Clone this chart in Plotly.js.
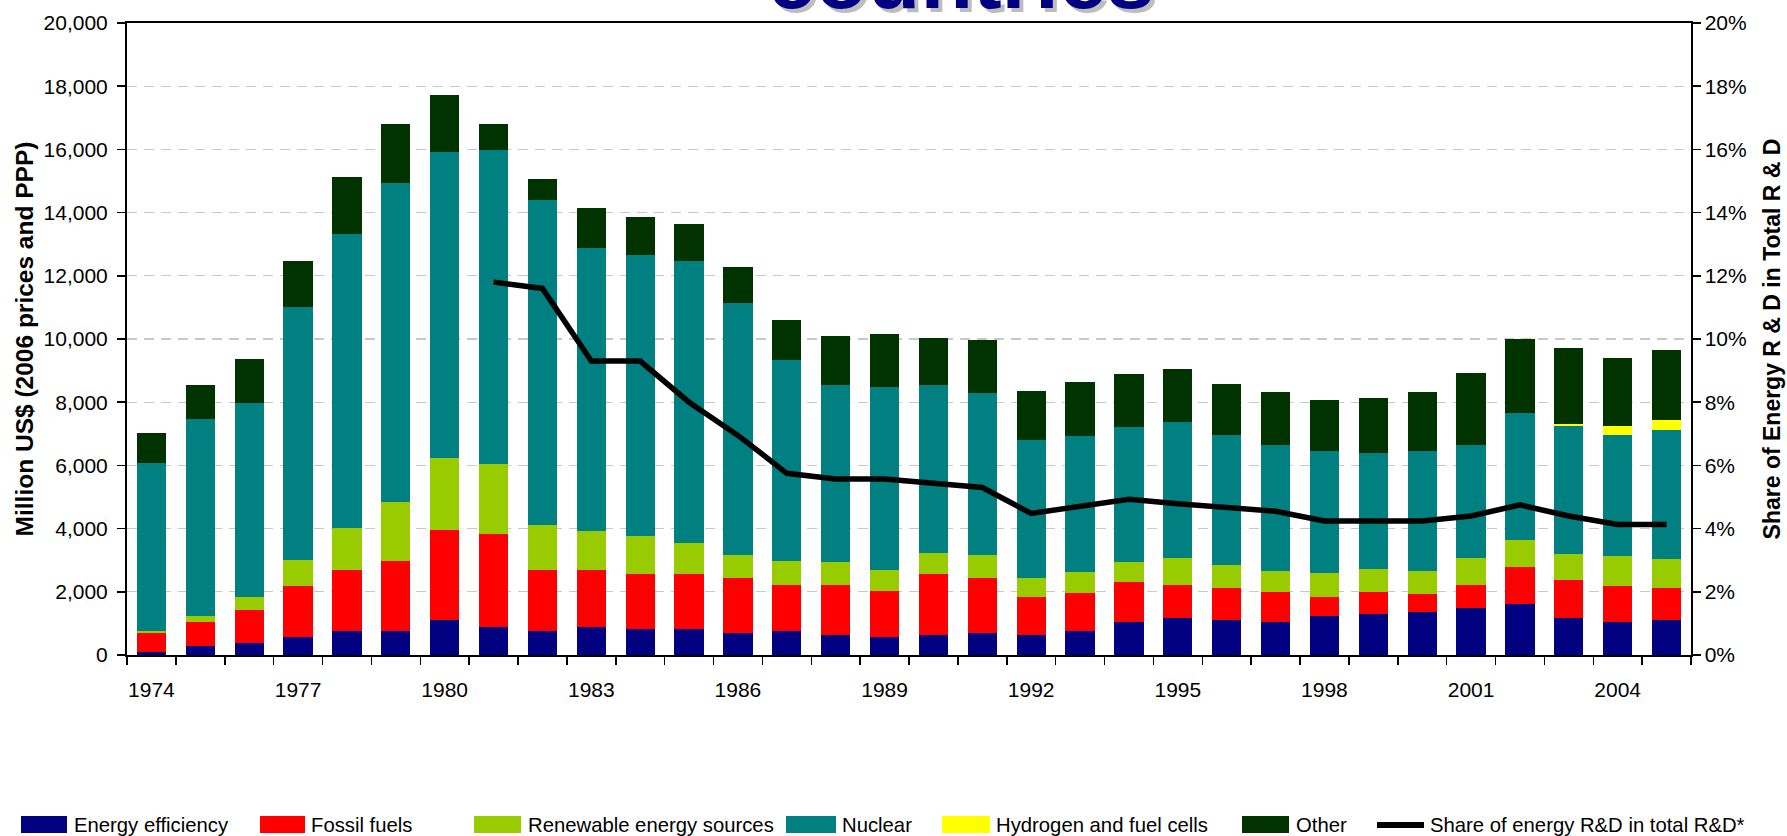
<!DOCTYPE html>
<html>
<head>
<meta charset="utf-8">
<script src="https://cdn.plot.ly/plotly-3.0.1.min.js"></script>
<style>
html,body{margin:0;padding:0;background:#fff;}
#chart{width:1787px;height:836px;}
</style>
</head>
<body>
<div id="chart"></div>
<script>
// ---------------- DATA ----------------
const years = ['1974','1975','1976','1977','1978','1979','1980','1981','1982','1983','1984','1985','1986','1987','1988','1989',
               '1990','1991','1992','1993','1994','1995','1996','1997','1998','1999','2000','2001','2002','2003','2004','2005'];
const tickLabels = ['1974','1977','1980','1983','1986','1989','1992','1995','1998','2001','2004'];

// Million US$ (2006 prices and PPP)
const energyEfficiency = [110,300,395,585,775,775,1120,900,775,880,820,820,690,750,630,560,
                          630,690,630,750,1050,1185,1120,1060,1250,1310,1375,1500,1600,1185,1060,1120];
const fossilFuels      = [600,760,1045,1585,1925,2215,2850,2940,1925,1820,1740,1740,1745,1460,1580,1465,
                          1930,1745,1195,1205,1270,1045,985,920,600,670,540,730,1170,1175,1110,985];
const renewables       = [65,190,410,850,1330,1840,2250,2190,1400,1210,1195,985,725,760,725,655,
                          655,725,610,665,630,825,730,665,730,730,730,825,855,825,950,920];
const nuclear          = [5315,6230,6110,7980,9300,10120,9710,9960,10300,8970,8890,8915,7970,6355,5605,5790,
                          5325,5125,4365,4305,4280,4315,4125,4000,3870,3680,3810,3585,4030,4060,3840,4095];
const hydrogen         = [0,0,0,0,0,0,0,0,0,0,0,0,0,0,0,0,
                          0,0,0,0,0,0,0,0,0,0,0,0,0,65,285,315];
const other            = [950,1080,1420,1480,1810,1860,1800,820,660,1260,1205,1195,1145,1265,1545,1675,
                          1485,1675,1545,1730,1675,1680,1620,1685,1620,1745,1875,2285,2350,2410,2160,2220];
// Share of energy R&D in total R&D (fraction)
const shareOfRD        = [null,null,null,null,null,null,null,0.118,0.116,0.093,0.093,0.080,0.0695,0.0575,0.0557,0.0557,
                          0.0542,0.053,0.0448,0.047,0.0493,0.0479,0.0467,0.0455,0.0424,0.0424,0.0424,0.044,0.0475,0.044,0.0413,0.0413];

const barNames  = ['Energy efficiency','Fossil fuels','Renewable energy sources','Nuclear','Hydrogen and fuel cells','Other'];
const lineName  = 'Share of energy R&D in total R&D*';
const titleText = 'countries';
const yTitle    = 'Million US$ (2006 prices and PPP)';
const y2Title   = 'Share of Energy R & D in Total R & D';

// ---------------- STYLE ----------------
const barColors = ['#000080','#FF0000','#99CC00','#008080','#FFFF00','#003300'];
const FONT = 'Liberation Sans, Arial, sans-serif';
const M = {l:127, r:96, t:23, b:181};
const W = 1787 - M.l - M.r, H = 836 - M.t - M.b;
const px2x = p => (p - M.l) / W;
const px2y = p => (836 - M.b - p) / H;

const barSeries = [energyEfficiency, fossilFuels, renewables, nuclear, hydrogen, other];
const traces = barSeries.map((vals, i) => ({
  type: 'bar', x: years, y: vals, name: barNames[i],
  marker: {color: barColors[i], line: {width: 0}},
  showlegend: false, hoverinfo: 'x+y+name'
}));
traces.push({
  type: 'scatter', mode: 'lines', x: years, y: shareOfRD, yaxis: 'y2', name: lineName,
  line: {color: '#000000', width: 5.5}, connectgaps: false, showlegend: false
});

// manual legend (wide swatches like the original)
const legendPos = [
  {b0:21,  b1:67,  t:73},
  {b0:260, b1:305, t:310},
  {b0:474, b1:521, t:527},
  {b0:786, b1:836, t:841},
  {b0:942, b1:990, t:995},
  {b0:1242,b1:1289,t:1295}
];
const legY0 = 816, legY1 = 833, legMid = 825;
const shapes = [], annotations = [];
legendPos.forEach((p, i) => {
  shapes.push({type:'rect', xref:'paper', yref:'paper', x0:px2x(p.b0), x1:px2x(p.b1), y0:px2y(legY1), y1:px2y(legY0),
               fillcolor: barColors[i], line:{width:0}});
  annotations.push({xref:'paper', yref:'paper', x:px2x(p.t), y:px2y(legMid), xanchor:'left', yanchor:'middle',
                    text: barNames[i], showarrow:false, borderpad:0, font:{family:FONT, size:20.3, color:'#000'}});
});
shapes.push({type:'line', xref:'paper', yref:'paper', x0:px2x(1377), x1:px2x(1424), y0:px2y(legMid), y1:px2y(legMid),
             line:{color:'#000', width:6}});
annotations.push({xref:'paper', yref:'paper', x:px2x(1429), y:px2y(legMid), xanchor:'left', yanchor:'middle',
                  text: lineName, showarrow:false, borderpad:0, font:{family:FONT, size:20.3, color:'#000'}});

const layout = {
  width: 1787, height: 836,
  margin: M,
  paper_bgcolor: '#fff', plot_bgcolor: '#fff',
  font: {family: FONT, size: 21, color: '#000'},
  barmode: 'stack', bargap: 0.4,
  showlegend: false,
  title: {
    text: titleText, xref: 'container', yref: 'container', x: 0.5378, xanchor: 'center',
    y: 1 - 8/836, yanchor: 'bottom',
    font: {family: FONT, size: 86, color: '#000080', weight: 'bold', shadow: '4px 4px 0px #bdbdbd'}
  },
  xaxis: {
    type: 'category', tickvals: years, ticktext: years.map(y => tickLabels.includes(y) ? y : ''),
    tickson: 'boundaries', ticks: 'outside', ticklen: 8, tickwidth: 1.5, tickcolor: '#000',
    ticklabelstandoff: 15,
    showline: true, linecolor: '#000', linewidth: 2, mirror: true,
    showgrid: false, tickfont: {size: 21}, tickangle: 0
  },
  yaxis: {
    range: [0, 20000], dtick: 2000, tickformat: ',d',
    ticks: 'outside', ticklen: 8, tickwidth: 1.5, tickcolor: '#000', ticklabelstandoff: 5,
    showline: true, linecolor: '#000', linewidth: 2,
    showgrid: true, gridcolor: '#c8c8c8', gridwidth: 1.3, griddash: '10px,7px', zeroline: false,
    title: {text: yTitle, standoff: 3, font: {size: 24.5, weight: 'bold'}}
  },
  yaxis2: {
    overlaying: 'y', side: 'right', range: [0, 0.2], dtick: 0.02, tickformat: '.0%',
    ticks: 'outside', ticklen: 8, tickwidth: 1.5, tickcolor: '#000',
    showline: true, linecolor: '#000', linewidth: 1.5, showgrid: false, zeroline: false,
    title: {text: y2Title, standoff: 18, font: {size: 23, weight: 'bold'}}
  },
  shapes: shapes,
  annotations: annotations
};

Plotly.newPlot('chart', traces, layout, {displayModeBar: false, staticPlot: true});
</script>
</body>
</html>
